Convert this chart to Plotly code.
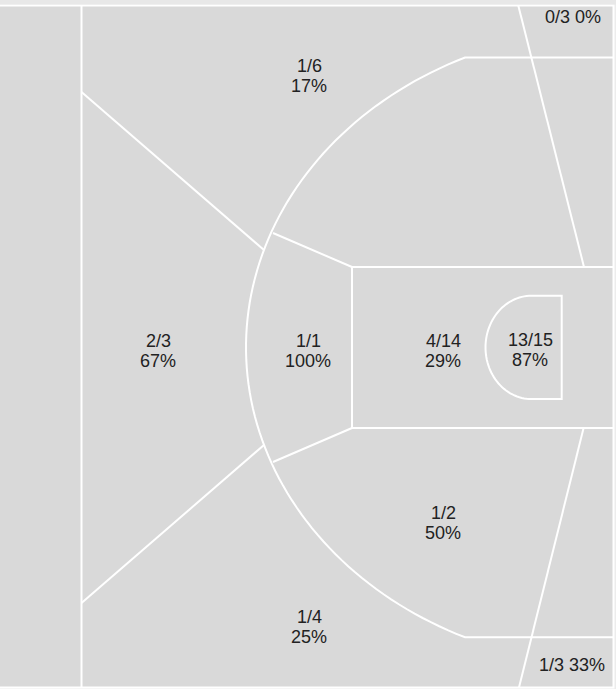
import numpy as np
import plotly.graph_objects as go

# ---- data: shooting by zone ----
zone_names = ["Above break 3 (top)", "Straight-away 3", "Mid-range (top of key)",
              "Paint (non-RA)", "Restricted area", "Mid-range (bottom)",
              "Above break 3 (bottom)", "Corner 3 (top)", "Corner 3 (bottom)"]
made = [1, 2, 1, 4, 13, 1, 1, 0, 1]
attempts = [6, 3, 1, 14, 15, 2, 4, 3, 3]

# ---- label placement (pixel-like court coordinates) ----
label_x = [309, 158, 308, 443, 530, 443, 309, 603, 607]
label_y = [76, 351, 351, 351, 350, 523, 627, 17, 664.5]
label_style = ["two", "two", "two", "two", "two", "two", "two", "one", "one"]

COURT = "#d9d9d9"
LINE = "white"
TXT = "#222222"
FONT = "Liberation Sans, Arial, sans-serif"
FS = 18

# ---- court geometry (pixel-like coordinates, y downwards) ----
X_BASE = 613.5
Y_TOP, Y_BOT = 5.5, 687.5
CY = 347.4


def arc_path(cx, cy, a, b, th0, th1, n=90):
    th = np.linspace(th0, th1, n)
    xs = cx + a * np.cos(th)
    ys = cy + b * np.sin(th)
    return xs, ys


shapes = []
# court fill
shapes.append(dict(type="rect", x0=-3, x1=X_BASE, y0=Y_TOP, y1=Y_BOT,
                   fillcolor=COURT, line=dict(color=LINE, width=2), layer="below"))


def seg(x0, y0, x1, y1):
    shapes.append(dict(type="line", x0=x0, y0=y0, x1=x1, y1=y1,
                       line=dict(color=LINE, width=2)))


# half-court-ish line
seg(81.5, Y_TOP, 81.5, Y_BOT)
# wing dividers
seg(81.5, 92, 264, 250)
seg(81.5, 603, 264, 445)
# elbow connectors
seg(273, 233, 352, 267)
seg(273, 462, 352, 428)
# paint
seg(352, 267, 352, 428)
seg(352, 267, X_BASE, 267)
seg(352, 428, X_BASE, 428)
# corner dividers
seg(518.3, Y_TOP, 584, 267)
seg(519, Y_BOT, 583.6, 428)

# three-point line
acx, aa = 620.0, 374.0
u = (465 - acx) / aa
bb = 289.9 / np.sqrt(1 - u * u)
th_top = np.arctan2(-1 * np.sqrt(1 - u * u), u) % (2 * np.pi)
th_bot = 2 * np.pi - th_top
xs, ys = arc_path(acx, CY, aa, bb, th_top, th_bot)
p = f"M {X_BASE},{CY - 289.9} L {xs[0]:.2f},{ys[0]:.2f} "
p += " ".join(f"L {x:.2f},{y:.2f}" for x, y in zip(xs[1:], ys[1:]))
p += f" L {X_BASE},{CY + 289.9}"
shapes.append(dict(type="path", path=p, line=dict(color=LINE, width=2)))

# restricted area
rcx, ra, rb = 531.5, 46.0, 51.7
xs, ys = arc_path(rcx, CY, ra, rb, 1.5 * np.pi, 0.5 * np.pi, 60)
p = f"M 561.7,{CY - rb} L {xs[0]:.2f},{ys[0]:.2f} "
p += " ".join(f"L {x:.2f},{y:.2f}" for x, y in zip(xs[1:], ys[1:]))
p += f" L 561.7,{CY + rb} Z"
shapes.append(dict(type="path", path=p, line=dict(color=LINE, width=2)))

# top light band above court
shapes.append(dict(type="rect", x0=-5, x1=620, y0=-5, y1=4.5, fillcolor="#e8e8e8",
                   line=dict(width=0), layer="below"))

annotations = []
for m, a, x, y, st in zip(made, attempts, label_x, label_y, label_style):
    frac = f"{m}/{a}"
    pct = f"{round(100 * m / a)}%"
    if st == "two":
        annotations.append(dict(x=x, y=y - 10, text=frac, showarrow=False,
                                xanchor="center", yanchor="middle",
                                font=dict(family=FONT, size=FS, color=TXT)))
        annotations.append(dict(x=x, y=y + 10, text=pct, showarrow=False,
                                xanchor="center", yanchor="middle",
                                font=dict(family=FONT, size=FS, color=TXT)))
    else:
        annotations.append(dict(x=x, y=y, text=f"{frac} {pct}", showarrow=False,
                                xanchor="right", yanchor="middle",
                                font=dict(family=FONT, size=FS, color=TXT)))

fig = go.Figure(go.Scatter(x=[None], y=[None], hoverinfo="skip", showlegend=False))
fig.update_layout(
    width=616, height=689,
    margin=dict(l=0, r=0, t=0, b=0, pad=0),
    paper_bgcolor="#ececec", plot_bgcolor="#ececec",
    xaxis=dict(range=[0, 616], visible=False, fixedrange=True),
    yaxis=dict(range=[689, 0], visible=False, fixedrange=True),
    shapes=shapes, annotations=annotations, showlegend=False,
)
fig.write_html(
    "out.html",
    config={"displayModeBar": False},
    post_script="document.body.style.margin='0';document.body.style.padding='0';",
)
